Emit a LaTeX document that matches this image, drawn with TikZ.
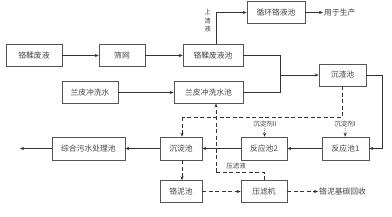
\documentclass[tikz,border=0pt]{standalone}
\usepackage{fontspec}
\newfontfamily\cjk{Noto Sans CJK SC}
\usetikzlibrary{arrows.meta}
\definecolor{ln}{HTML}{333333}
\definecolor{bx}{HTML}{555555}
\definecolor{tx}{HTML}{444444}
\tikzset{
  box/.style={draw=bx, line width=0.6pt, text=tx, inner sep=0pt, minimum height=21.5pt, font=\cjk\fontsize{7.8}{9}\selectfont},
  lab/.style={text=tx, inner sep=1pt, font=\cjk\fontsize{7.8}{9}\selectfont},
  con/.style={draw=ln, line width=0.6pt},
  arr/.style={con, -{Stealth[length=4pt,width=3.2pt]}},
  dsh/.style={con, dash pattern=on 4pt off 2.5pt},
  darr/.style={dsh, -{Stealth[length=4pt,width=3.2pt]}},
  dot/.style={con, dash pattern=on 1pt off 1pt, -{Stealth[length=4pt,width=3.2pt]}}
}
\begin{document}
\begin{tikzpicture}[x=1pt,y=-1pt]
\useasboundingbox[fill=white] (0,0) rectangle (392,217);
\node[box, minimum width=56pt] (A) at (34,55.5) {铬鞣废液};
\node[box, minimum width=46pt] (B) at (122,55.5) {筛网};
\node[box, minimum width=60pt] (C) at (213,55.5) {铬鞣废液池};
\node[box, minimum width=58pt] (D) at (276,12.5) {循环铬液池};
\node[lab, anchor=west] (E) at (323,12.5) {用于生产};
\node[box, minimum width=56pt] (F) at (90,92.5) {兰皮冲洗水};
\node[box, minimum width=69pt] (G) at (208.5,92.5) {兰皮冲洗水池};
\node[box, minimum width=47pt, minimum height=22pt] (H) at (342.5,75) {沉渣池};
\node[box, minimum width=47pt, minimum height=23pt] (R1) at (345.5,148.5) {反应池1};
\node[box, minimum width=46pt, minimum height=23pt] (R2) at (264,148.5) {反应池2};
\node[box, minimum width=42pt, minimum height=23pt] (S) at (181,148.5) {沉淀池};
\node[box, minimum width=73pt, minimum height=23pt] (T) at (88.5,148.5) {综合污水处理池};
\node[box, minimum width=42pt, minimum height=22pt] (P) at (181,191.5) {铬泥池};
\node[box, minimum width=46pt, minimum height=22pt] (Q) at (264,191.5) {压滤机};
\node[lab, anchor=west] (U) at (318,191.5) {铬泥基碳回收};
\node[lab, align=center, font=\cjk\fontsize{6.5}{8.5}\selectfont] (L1) at (207.5,21) {上\\清\\液};
\node[lab, font=\cjk\fontsize{6.5}{7}\selectfont] (L2) at (345,124) {沉淀剂I};
\node[lab, font=\cjk\fontsize{6.5}{7}\selectfont] (L3) at (265,124) {沉淀剂II};
\node[lab, font=\cjk\fontsize{6.5}{7}\selectfont] (L4) at (236,166.5) {压滤液};
\coordinate (out) at (20,148.5);
\coordinate (j1) at (280,55.5);
\coordinate (j2) at (280,75);
\coordinate (j3) at (382,75);
\coordinate (k1) at (216,172);
\coordinate (k2) at (182,117);
% solid flow
\draw[arr] (A) -- (B);
\draw[arr] (B) -- (C);
\draw[arr] (C.north -| k1) |- (D.west);
\draw[arr] (D) -- (E);
\draw[arr] (F) -- (G);
\draw[con] (C.east) -- (j1) |- (G.east);
\draw[arr] (j2) -- (H.west);
\draw[arr] (H.east) -- (j3) |- (R1.east);
\draw[arr] (R1) -- (R2);
\draw[arr] (R2) -- (S);
\draw[arr] (S) -- (T);
\draw[arr] (T) -- (out);
% dashed flow
\draw[dsh] (H.south) |- (k2);
\draw[darr] (k2) -- (k2 |- S.north);
\draw[darr] (S.south -| k2) -- (P.north -| k2);
\draw[darr] (P) -- (Q);
\draw[darr] (Q) -- (U);
\draw[dsh] (Q.north) |- (k1);
\draw[darr] (k1) -- (k1 |- G.south);
\draw[dot] (L2) -- (R1);
\draw[dot] (L3) -- (R2);
\end{tikzpicture}
\end{document}
